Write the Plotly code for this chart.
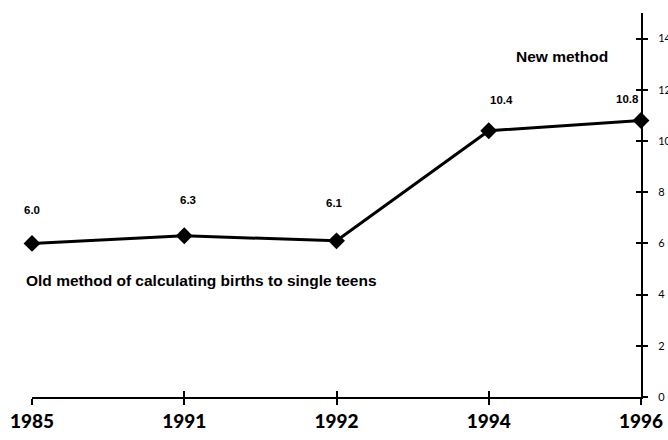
import plotly.graph_objects as go

years = ["1985", "1991", "1992", "1994", "1996"]
rates = [6.0, 6.3, 6.1, 10.4, 10.8]
value_labels = ["6.0", "6.3", "6.1", "10.4", "10.8"]
y_ticks = [0, 2, 4, 6, 8, 10, 12, 14]

label_shift_x = [0, 4, -2, 13, -14]
label_shift_y = [33, 36, 38, 31, 22]

x_idx = list(range(len(years)))
FONT = "Liberation Sans, Arial"

fig = go.Figure()
fig.add_trace(go.Scatter(
    x=x_idx, y=rates, mode="lines+markers",
    line=dict(color="black", width=3),
    marker=dict(symbol="diamond", size=13, color="black"),
    cliponaxis=False, showlegend=False, hoverinfo="skip",
))
fig.add_trace(go.Scatter(x=[0], y=[0], xaxis="x2", yaxis="y2", mode="markers",
                         marker=dict(opacity=0), showlegend=False, hoverinfo="skip"))

for i, (xv, yv, lab) in enumerate(zip(x_idx, rates, value_labels)):
    fig.add_annotation(x=xv, y=yv, text=lab, showarrow=False,
                       xshift=label_shift_x[i], yshift=label_shift_y[i],
                       font=dict(family=FONT, size=11.5, color="black", weight="bold"))

fig.add_annotation(xref="paper", yref="paper", x=0.871, xanchor="center", y=0.915, text="New method",
                   showarrow=False, font=dict(family=FONT, size=15.5, color="black", weight="bold"))
fig.add_annotation(xref="paper", yref="paper", x=-0.013, xanchor="left", y=0.275,
                   text="Old method of calculating births to single teens",
                   showarrow=False, font=dict(family=FONT, size=15.5, color="black", weight="bold"))

fig.update_layout(
    width=668, height=440,
    margin=dict(l=32, r=27, t=13, b=43),
    paper_bgcolor="white", plot_bgcolor="white",
    xaxis=dict(range=[0, 4], tickvals=x_idx, ticktext=years, showgrid=False, zeroline=False,
               automargin=False,
               showline=True, linecolor="black", linewidth=2,
               ticks="outside", ticklen=6, tickwidth=2, tickcolor="black",
               tickfont=dict(family="Lato", size=19, color="black", weight=900)),
    yaxis=dict(range=[0, 15], side="right", tickvals=y_ticks, showgrid=False, zeroline=False,
               automargin=False,
               showline=True, linecolor="black", linewidth=2,
               ticks="outside", ticklen=5, tickwidth=1.5, tickcolor="black",
               ticklabelstandoff=8,
               tickfont=dict(family="Lato", size=11, color="black")),
    xaxis2=dict(range=[0, 4], overlaying="x", tickvals=x_idx, showticklabels=False,
                automargin=False,
                showgrid=False, zeroline=False, ticks="inside", ticklen=6, tickwidth=2,
                tickcolor="black", side="bottom"),
    yaxis2=dict(range=[0, 15], overlaying="y", side="right", tickvals=y_ticks, showticklabels=False,
                automargin=False,
                showgrid=False, zeroline=False, ticks="inside", ticklen=5, tickwidth=1.5,
                tickcolor="black"),
)

fig.write_html("out.html", config={"displayModeBar": False},
               post_script="document.body.style.margin='0';document.body.style.overflow='hidden';")
